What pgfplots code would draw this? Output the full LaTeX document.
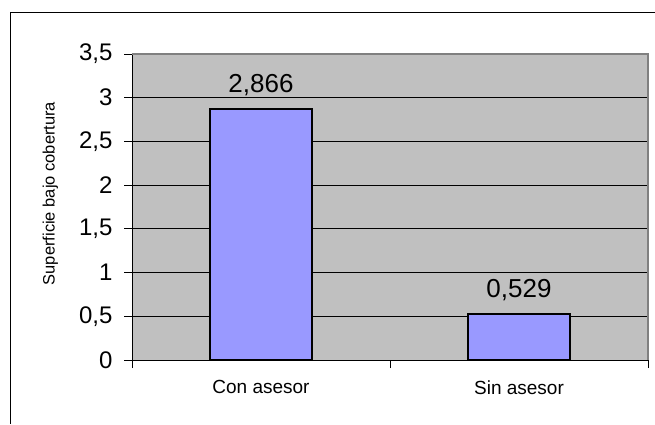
\documentclass[border=0pt]{standalone}
\usepackage{pgfplots}
\pgfplotsset{compat=1.18}
\usepackage{fontspec}
\setmainfont{Liberation Sans}
\definecolor{plotbg}{RGB}{192,192,192}
\definecolor{plotborder}{RGB}{128,128,128}
\definecolor{barfill}{RGB}{153,153,255}
\begin{document}
\begin{tikzpicture}[x=1pt,y=1pt]
\useasboundingbox (0,0) rectangle (655,424);
\draw[line width=1pt] (655,411) -- (10,411) -- (10,0);
\begin{axis}[
  at={(132pt,64pt)}, anchor=south west,
  width=516pt, height=306pt, scale only axis,
  xmin=-0.5, xmax=1.5, ymin=0, ymax=3.5,
  axis x line*=bottom, axis y line*=left,
  axis line style={-, line width=1pt, black},
  axis background/.style={fill=plotbg},
  xtick={-0.5,0.5,1.5},
  xticklabels={Con asesor,Sin asesor},
  x tick label as interval,
  ytick={0,0.5,...,3.5},
  tick align=outside,
  major tick length=8pt,
  tick style={black, line width=0.8pt},
  ymajorgrids,
  grid style={black, line width=0.8pt},
  /pgf/number format/assume math mode=true,
  /pgf/number format/use comma,
  yticklabel style={font=\fontsize{24}{26}\selectfont, /pgf/number format/use comma, xshift=-8pt},
  xticklabel style={font=\fontsize{19}{21}\selectfont, yshift=-9pt},
  ylabel={Superficie bajo cobertura},
  ylabel style={font=\fontsize{16.5}{18}\selectfont, at={(axis description cs:-0.158,0.544)}, anchor=center, rotate=0},
  ybar, bar width=102pt,
  nodes near coords,
  every node near coord/.append style={font=\fontsize{26}{28}\selectfont, anchor=base, yshift=16.5pt, inner sep=0pt,
    /pgf/number format/fixed, /pgf/number format/fixed zerofill, /pgf/number format/precision=3, /pgf/number format/use comma},
  clip=false,
]
\addplot[fill=barfill, draw=black, line width=2pt] coordinates {(0,2.866) (1,0.529)};
\draw[plotborder, line width=1.5pt] (rel axis cs:0,1) -- (rel axis cs:1,1) -- (rel axis cs:1,0);
\end{axis}
\end{tikzpicture}
\end{document}
